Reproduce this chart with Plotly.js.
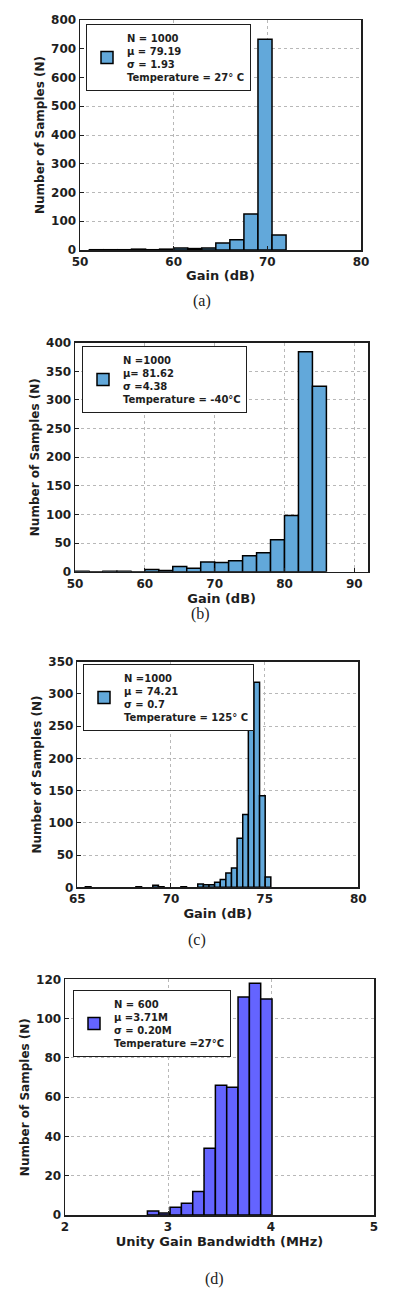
<!DOCTYPE html>
<html>
<head>
<meta charset="utf-8">
<script src="https://cdn.plot.ly/plotly-3.0.1.min.js"></script>
<style>
  html, body { margin: 0; padding: 0; background: #ffffff; }
  #chart { width: 393px; height: 1289px; }
</style>
</head>
<body>
<div id="chart"></div>
<script>
// ---- Panel (a): Gain at 27 C ----
const gainA_bins   = [51.75, 53.25, 54.75, 56.25, 57.75, 59.25, 60.75, 62.25, 63.75, 65.25, 66.75, 68.25, 69.75, 71.25];
const gainA_counts = [1, 1, 1, 3, 1, 3, 7, 5, 7, 24, 36, 125, 733, 52];

// ---- Panel (b): Gain at -40 C ----
const gainB_bins   = [51, 53, 55, 57, 59, 61, 63, 65, 67, 69, 71, 73, 75, 77, 79, 81, 83, 85];
const gainB_counts = [1, 0, 1, 1, 0, 4, 2, 9, 6, 17, 16, 19, 28, 33, 56, 98, 384, 324];

// ---- Panel (c): Gain at 125 C ----
const gainC_bins   = [65.58, 68.28, 69.18, 69.48, 70.68, 71.58, 71.88, 72.18, 72.48, 72.78, 73.08, 73.38, 73.68, 73.98, 74.28, 74.58, 74.88, 75.18];
const gainC_counts = [1, 1, 3, 1, 1, 5, 4, 4, 8, 12, 22, 30, 76, 113, 244, 318, 142, 16];

// ---- Panel (d): Unity gain bandwidth at 27 C ----
const ugbw_bins   = [2.855, 2.965, 3.075, 3.185, 3.295, 3.405, 3.515, 3.625, 3.735, 3.845, 3.955];
const ugbw_counts = [2, 1, 4, 6, 12, 34, 66, 65, 111, 118, 110];

// Legend texts
const legendA = "N = 1000<br>μ = 79.19<br>σ = 1.93<br>Temperature = 27° C";
const legendB = "N =1000<br>μ= 81.62<br>σ =4.38<br>Temperature = -40°C";
const legendC = "N =1000<br>μ = 74.21<br>σ = 0.7<br>Temperature = 125° C";
const legendD = "N = 600<br>μ =3.71M<br>σ = 0.20M<br>Temperature =27°C";

const captions = ["(a)", "(b)", "(c)", "(d)"];

const W = 393, H = 1289;
const blue = '#62a8da';
const violet = '#6464ff';
const ink = '#1e1e1e';
const tickFont = {family: 'DejaVu Sans', size: 12, color: ink, weight: 'bold'};
const xTitleFont = {family: 'DejaVu Sans', size: 13, color: ink, weight: 'bold'};
const yTitleFont = {family: 'DejaVu Sans', size: 12, color: ink, weight: 'bold'};

function barTrace(x, y, w, color, xa, ya, name, leg) {
  return {
    type: 'bar', x: x, y: y, width: w, xaxis: xa, yaxis: ya, name: name,
    legend: leg, showlegend: true,
    marker: {color: color, line: {color: '#000000', width: 1.5}}
  };
}

const data = [
  barTrace(gainA_bins, gainA_counts, 1.5, blue, 'x', 'y', legendA, 'legend'),
  barTrace(gainB_bins, gainB_counts, 2, blue, 'x2', 'y2', legendB, 'legend2'),
  barTrace(gainC_bins, gainC_counts, 0.3, blue, 'x3', 'y3', legendC, 'legend3'),
  barTrace(ugbw_bins, ugbw_counts, 0.11, violet, 'x4', 'y4', legendD, 'legend4')
];

function px(v) { return v / W; }
function py(v) { return 1 - v / H; }

function xaxis(domain, range, dtick, title, anchor) {
  return {
    domain: domain, range: range, dtick: dtick, tick0: 0, anchor: anchor,
    showline: true, mirror: true, linecolor: ink, linewidth: 1.5,
    ticks: 'inside', ticklen: 4, tickcolor: ink, tickwidth: 1,
    showgrid: true, gridcolor: '#b8b8b8', griddash: 'dot', gridwidth: 1,
    zeroline: false, tickfont: tickFont, automargin: false,
    title: {text: title, font: xTitleFont, standoff: 3}
  };
}
function yaxis(domain, range, dtick, anchor) {
  return {
    domain: domain, range: range, dtick: dtick, tick0: 0, anchor: anchor,
    showline: true, mirror: true, linecolor: ink, linewidth: 1.5,
    ticks: 'inside', ticklen: 4, tickcolor: ink, tickwidth: 1,
    showgrid: true, gridcolor: '#b8b8b8', griddash: 'dot', gridwidth: 1,
    zeroline: false, tickfont: tickFont, automargin: false,
    title: {text: 'Number of Samples (N)', font: yTitleFont, standoff: 4}
  };
}
function legendBox(x, y) {
  return {
    x: x, y: y, xanchor: 'left', yanchor: 'top', xref: 'paper', yref: 'paper',
    bgcolor: '#ffffff', bordercolor: ink, borderwidth: 1,
    font: {family: 'DejaVu Sans', size: 10, color: ink, weight: 'bold'},
    valign: 'middle', itemwidth: 30
  };
}

const layout = {
  width: W, height: H,
  margin: {l: 0, r: 0, t: 0, b: 0},
  paper_bgcolor: '#ffffff', plot_bgcolor: '#ffffff',
  bargap: 0, barmode: 'overlay',
  xaxis:  xaxis([px(80), px(361)], [50, 80], 10, 'Gain (dB)', 'y'),
  yaxis:  yaxis([py(250), py(20)], [0, 800], 100, 'x'),
  xaxis2: xaxis([px(75), px(368.3)], [50, 92], 10, 'Gain (dB)', 'y2'),
  yaxis2: yaxis([py(571.7), py(342.7)], [0, 400], 50, 'x2'),
  xaxis3: xaxis([px(77.3), px(358.3)], [65, 80], 5, 'Gain (dB)', 'y3'),
  yaxis3: yaxis([py(887.3), py(661.7)], [0, 350], 50, 'x3'),
  xaxis4: xaxis([px(65), px(374)], [2, 5], 1, 'Unity Gain Bandwidth (MHz)', 'y4'),
  yaxis4: yaxis([py(1215), py(979.3)], [0, 120], 20, 'x4'),
  legend:  legendBox(px(86), py(24)),
  legend2: legendBox(px(82), py(346)),
  legend3: legendBox(px(83), py(664)),
  legend4: legendBox(px(73), py(990)),
  annotations: [
    [201.7, 301], [200, 614], [197, 940], [214, 1279]
  ].map((p, i) => ({
    text: captions[i], x: px(p[0]), y: py(p[1]), xref: 'paper', yref: 'paper',
    xanchor: 'center', yanchor: 'middle', showarrow: false,
    font: {family: 'Liberation Serif', size: 16, color: '#222222'}
  }))
};

Plotly.newPlot('chart', data, layout, {staticPlot: true, displayModeBar: false});
</script>
</body>
</html>
